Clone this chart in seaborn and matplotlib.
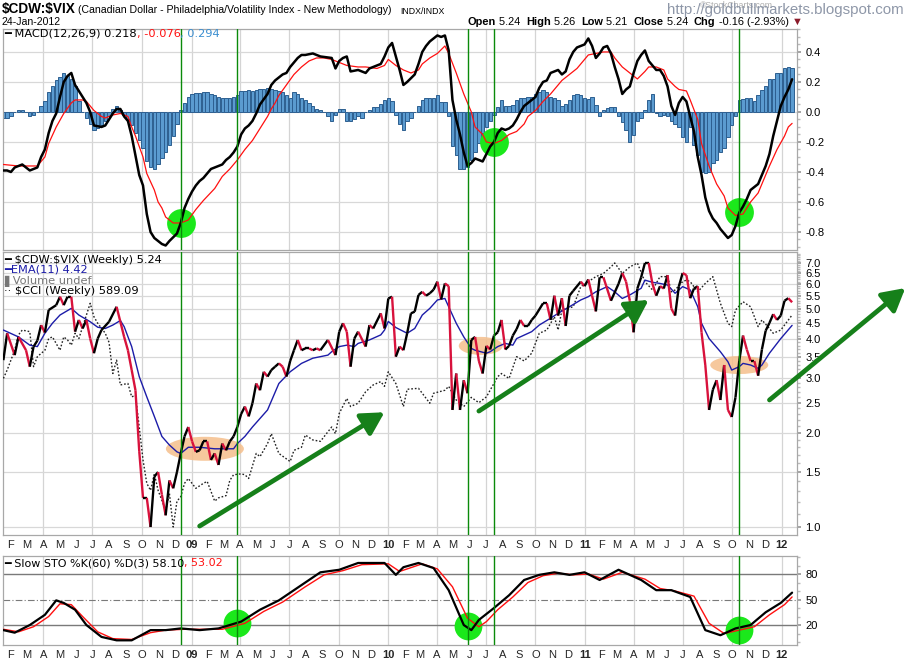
import numpy as np
import pandas as pd
import matplotlib
matplotlib.use("Agg")
import matplotlib.pyplot as plt
import matplotlib.dates as mdates
import matplotlib.transforms as mtransforms
from matplotlib.patches import Ellipse
from matplotlib.collections import LineCollection
from matplotlib.ticker import FixedLocator, FormatStrFormatter, NullFormatter
import seaborn as sns

# weekly bars, week 0 = 18-Jan-2008; (week, value)
price_pts = [(0, 3.42), (1, 4.17), (3, 3.55), (4, 4.06), (6, 3.68), (7, 3.26), (8, 3.78), (9, 3.95), (10, 4.43),
             (11, 4.19), (12, 4.95), (14, 5.13), (15, 5.46), (16, 5.13), (17, 5.46), (18, 5.46), (19, 4.22),
             (20, 4.60), (21, 4.32), (22, 4.60), (23, 4.01), (24, 3.60), (25, 4.01), (26, 4.27), (28, 4.54),
             (30, 5.07), (31, 4.54), (32, 4.06), (33, 3.68), (34, 3.18), (35, 2.74), (36, 1.75), (37, 1.24),
             (38, 1.24), (39, 1.00), (40, 1.45), (41, 1.50), (42, 1.27), (43, 1.09), (44, 1.41), (45, 1.33),
             (46, 1.50), (47, 1.72), (48, 1.95), (49, 2.09), (50, 1.88), (51, 1.74), (52, 1.76), (53, 1.88),
             (54, 1.88), (55, 1.64), (56, 1.72), (57, 1.58), (58, 1.85), (59, 1.76), (60, 1.88), (61, 1.95),
             (62, 2.09), (63, 2.30), (64, 2.43), (65, 2.26), (66, 2.49), (67, 2.88), (68, 2.74), (69, 3.14),
             (70, 3.03), (71, 3.18), (72, 3.26), (73, 3.34), (74, 3.26), (75, 3.03), (76, 3.40), (77, 3.68),
             (78, 3.97), (79, 3.68), (80, 3.73), (81, 3.73), (82, 3.68), (83, 3.73), (84, 3.68), (86, 3.97),
             (88, 3.55), (89, 4.22), (90, 4.49), (91, 4.22), (92, 3.26), (93, 4.01), (94, 4.22), (96, 3.78),
             (97, 4.43), (98, 4.32), (100, 4.83), (101, 4.32), (102, 5.39), (103, 5.46), (104, 3.51), (105, 3.78),
             (106, 3.68), (107, 4.17), (108, 4.83), (109, 4.89), (110, 5.53), (111, 5.66), (112, 5.50), (113, 5.60),
             (114, 5.75), (115, 6.10), (116, 5.35), (117, 6.02), (118, 5.90), (119, 2.37), (120, 3.10), (121, 2.37),
             (122, 2.95), (123, 2.68), (124, 3.97), (125, 4.06), (126, 3.40), (127, 3.10), (128, 3.80), (129, 3.70),
             (130, 4.10), (131, 4.20), (132, 4.60), (133, 3.70), (134, 3.80), (135, 4.10), (136, 4.30), (137, 4.60),
             (138, 4.40), (139, 4.40), (140, 4.60), (141, 4.75), (143, 5.20), (144, 5.20), (145, 4.60), (146, 5.50),
             (147, 4.75), (148, 5.40), (149, 4.40), (150, 5.50), (151, 5.70), (153, 6.10), (154, 5.90), (155, 6.20),
             (156, 5.50), (157, 4.90), (158, 6.30), (159, 6.30), (161, 5.30), (163, 6.00), (164, 6.50), (165, 6.10),
             (166, 5.30), (167, 4.20), (168, 5.80), (169, 6.30), (170, 7.00), (171, 7.00), (172, 6.00), (173, 5.50),
             (174, 5.90), (175, 5.80), (176, 6.40), (177, 5.00), (178, 4.75), (179, 5.90), (180, 6.50), (181, 6.40),
             (182, 5.40), (183, 5.80), (184, 5.90), (185, 4.20), (186, 3.30), (187, 2.37), (188, 2.75), (189, 2.95),
             (190, 2.55), (191, 3.30), (192, 2.37), (193, 2.25), (194, 2.60), (195, 3.40), (196, 4.10), (197, 3.70),
             (198, 3.40), (199, 3.40), (200, 3.05), (201, 3.70), (202, 4.25), (203, 4.50), (204, 4.80), (205, 4.60),
             (206, 4.75), (207, 5.30), (208, 5.40), (209, 5.24)]

ema_pts = [(0, 4.27), (4, 4.06), (7, 3.82), (9, 3.78), (11, 4.17), (13, 4.49), (15, 4.77), (18, 5.01), (20, 4.77),
           (23, 4.54), (25, 4.36), (27, 4.32), (29, 4.43), (31, 4.58), (32, 4.38), (34, 3.78), (36, 3.03), (38, 2.61),
           (40, 2.26), (42, 1.95), (44, 1.83), (46, 1.74), (47, 1.72), (49, 1.80), (52, 1.80), (56, 1.78), (61, 1.78),
           (62, 1.85), (64, 1.95), (66, 2.09), (70, 2.37), (73, 2.88), (76, 3.14), (79, 3.34), (82, 3.47), (86, 3.55),
           (87, 3.64), (89, 3.78), (91, 3.82), (93, 3.78), (94, 3.87), (97, 3.97), (100, 4.12), (101, 4.27),
           (102, 4.55), (104, 4.35), (107, 4.17), (109, 4.32), (111, 4.77), (113, 5.01), (115, 5.33), (117, 5.39),
           (118, 5.07), (120, 4.49), (122, 4.06), (124, 3.73), (125, 3.68), (128, 3.60), (129, 3.64), (131, 3.78),
           (133, 3.87), (135, 3.82), (136, 4.01), (140, 4.22), (142, 4.43), (145, 4.66), (147, 4.83), (150, 5.07),
           (153, 5.33), (155, 5.46), (157, 5.66), (160, 5.88), (162, 5.66), (164, 5.39), (166, 5.53), (169, 5.81),
           (170, 6.17), (172, 6.07), (174, 6.02), (176, 5.95), (178, 5.60), (180, 5.88), (182, 5.74), (184, 5.07),
           (185, 4.49), (187, 4.01), (190, 3.64), (192, 3.38), (193, 3.18), (195, 3.26), (196, 3.34), (198, 3.30),
           (200, 3.22), (201, 3.30), (203, 3.60), (206, 4.01), (209, 4.42)]

cci_pts = [(0, 2.99), (1, 3.18), (3, 3.68), (4, 4.12), (5, 4.27), (7, 4.22), (8, 3.26), (9, 3.51), (11, 3.68),
           (12, 4.01), (13, 4.06), (15, 3.68), (16, 4.06), (17, 3.97), (18, 3.82), (19, 4.17), (20, 4.01), (23, 5.20),
           (24, 4.71), (25, 4.49), (27, 4.17), (28, 3.90), (29, 3.10), (30, 3.42), (31, 2.85), (33, 2.88), (34, 2.61),
           (35, 2.64), (36, 2.09), (37, 1.64), (38, 1.38), (39, 1.31), (40, 1.48), (41, 1.31), (43, 1.13), (44, 1.28),
           (45, 1.00), (46, 1.21), (47, 1.25), (48, 1.38), (49, 1.43), (50, 1.38), (51, 1.33), (53, 1.38), (54, 1.40),
           (56, 1.21), (57, 1.24), (59, 1.26), (60, 1.41), (61, 1.47), (63, 1.48), (64, 1.47), (65, 1.43), (67, 1.72),
           (68, 1.68), (70, 1.85), (71, 1.99), (73, 1.72), (76, 1.62), (77, 1.76), (79, 1.80), (80, 1.97), (82, 1.90),
           (84, 1.88), (87, 2.09), (88, 1.99), (89, 2.31), (91, 2.58), (92, 2.43), (94, 2.49), (96, 2.71), (98, 2.85),
           (100, 2.92), (101, 2.82), (102, 3.14), (104, 2.88), (106, 2.43), (107, 2.76), (110, 2.78), (111, 2.68),
           (113, 2.49), (114, 2.68), (117, 2.74), (118, 2.82), (120, 2.55), (122, 2.43), (124, 2.60), (126, 2.50),
           (128, 2.61), (131, 3.03), (132, 3.10), (134, 2.99), (136, 3.51), (138, 3.40), (140, 3.60), (142, 4.17),
           (144, 4.27), (146, 4.71), (147, 4.27), (148, 4.95), (151, 5.07), (153, 5.88), (155, 6.10), (157, 6.33),
           (159, 6.48), (161, 6.80), (162, 7.00), (164, 6.48), (166, 6.80), (168, 7.00), (170, 6.10), (172, 5.74),
           (174, 6.33), (176, 6.33), (177, 5.66), (178, 5.74), (180, 6.10), (181, 6.17), (182, 6.10), (184, 5.66),
           (186, 6.02), (188, 6.33), (189, 5.74), (190, 5.20), (192, 4.49), (193, 4.38), (194, 4.95), (196, 5.26),
           (198, 5.07), (199, 4.71), (200, 4.38), (201, 4.60), (203, 4.32), (204, 4.17), (206, 4.27), (208, 4.60),
           (209, 4.77)]

macd_pts = [(0, -0.39), (1, -0.39), (2, -0.40), (3, -0.37), (5, -0.35), (7, -0.39), (9, -0.37), (10, -0.30),
            (11, -0.25), (12, -0.14), (13, -0.06), (14, -0.01), (15, 0.10), (16, 0.20), (17, 0.24), (18, 0.26),
            (19, 0.18), (20, 0.14), (21, 0.10), (22, 0.06), (23, 0.0), (24, -0.09), (26, -0.10), (27, -0.09),
            (29, -0.01), (30, 0.02), (31, 0.02), (32, -0.03), (33, -0.06), (34, -0.16), (35, -0.29), (36, -0.42),
            (37, -0.49), (38, -0.68), (39, -0.80), (40, -0.84), (41, -0.86), (42, -0.88), (43, -0.89), (44, -0.86),
            (46, -0.81), (47, -0.74), (48, -0.64), (49, -0.58), (50, -0.53), (51, -0.49), (52, -0.46), (53, -0.44),
            (54, -0.41), (55, -0.38), (56, -0.37), (57, -0.36), (58, -0.35), (59, -0.32), (60, -0.30), (61, -0.27),
            (62, -0.23), (63, -0.15), (64, -0.11), (65, -0.09), (66, -0.06), (67, -0.01), (68, 0.05), (70, 0.12),
            (71, 0.18), (72, 0.21), (74, 0.25), (75, 0.26), (76, 0.30), (78, 0.36), (79, 0.38), (80, 0.38),
            (82, 0.39), (83, 0.38), (84, 0.37), (87, 0.36), (88, 0.29), (89, 0.34), (90, 0.36), (91, 0.37),
            (92, 0.27), (94, 0.28), (96, 0.26), (97, 0.29), (98, 0.30), (100, 0.32), (101, 0.37), (102, 0.43),
            (103, 0.46), (104, 0.37), (105, 0.28), (106, 0.18), (107, 0.20), (109, 0.25), (110, 0.32), (111, 0.40),
            (112, 0.44), (113, 0.47), (114, 0.49), (115, 0.51), (116, 0.50), (117, 0.51), (118, 0.41), (119, 0.08),
            (120, -0.05), (121, -0.15), (122, -0.27), (123, -0.36), (124, -0.34), (125, -0.31), (126, -0.32),
            (127, -0.33), (128, -0.28), (129, -0.23), (130, -0.20), (131, -0.14), (132, -0.11), (133, -0.12),
            (134, -0.11), (135, -0.09), (136, -0.05), (137, 0.0), (138, 0.04), (139, 0.06), (140, 0.08), (141, 0.10),
            (142, 0.16), (143, 0.20), (144, 0.21), (145, 0.26), (146, 0.27), (147, 0.28), (148, 0.25), (149, 0.27),
            (150, 0.35), (151, 0.40), (152, 0.43), (153, 0.44), (154, 0.45), (155, 0.49), (156, 0.44), (157, 0.36),
            (158, 0.39), (159, 0.43), (160, 0.44), (161, 0.39), (162, 0.30), (163, 0.22), (164, 0.12), (165, 0.15),
            (166, 0.17), (167, 0.26), (168, 0.34), (169, 0.38), (170, 0.41), (171, 0.34), (172, 0.31), (173, 0.28),
            (174, 0.28), (175, 0.24), (176, 0.17), (177, 0.04), (178, -0.02), (179, 0.06), (180, 0.10), (181, 0.07),
            (182, -0.03), (183, -0.13), (184, -0.30), (185, -0.42), (186, -0.57), (187, -0.66), (188, -0.71),
            (189, -0.74), (190, -0.78), (191, -0.81), (192, -0.84), (193, -0.82), (194, -0.76), (195, -0.67),
            (196, -0.63), (197, -0.58), (198, -0.52), (199, -0.50), (200, -0.48), (201, -0.42), (202, -0.36),
            (203, -0.28), (204, -0.16), (205, -0.06), (206, 0.04), (207, 0.10), (208, 0.15), (209, 0.218)]

signal_pts = [(0, -0.35), (4, -0.36), (9, -0.36), (11, -0.30), (12, -0.21), (14, -0.10), (16, -0.01), (18, 0.06),
              (19, 0.08), (21, 0.08), (22, 0.07), (24, 0.01), (26, -0.03), (27, -0.04), (29, -0.02), (31, -0.01),
              (33, -0.03), (34, -0.10), (35, -0.16), (37, -0.30), (38, -0.41), (40, -0.52), (41, -0.60), (42, -0.64),
              (43, -0.70), (45, -0.74), (47, -0.74), (49, -0.72), (51, -0.65), (53, -0.59), (56, -0.51), (58, -0.43),
              (60, -0.38), (62, -0.32), (64, -0.25), (66, -0.19), (68, -0.11), (70, -0.03), (71, 0.02), (72, 0.06),
              (73, 0.11), (75, 0.18), (77, 0.25), (79, 0.30), (81, 0.34), (83, 0.36), (85, 0.36), (87, 0.35),
              (89, 0.33), (91, 0.31), (94, 0.30), (96, 0.30), (99, 0.29), (101, 0.31), (102, 0.35), (104, 0.31),
              (106, 0.28), (108, 0.26), (110, 0.28), (111, 0.32), (113, 0.36), (115, 0.39), (117, 0.44), (118, 0.39),
              (120, 0.26), (122, 0.12), (124, 0.0), (125, -0.10), (127, -0.15), (128, -0.20), (130, -0.21),
              (132, -0.19), (134, -0.15), (136, -0.13), (138, -0.08), (139, -0.03), (141, 0.01), (143, 0.07),
              (145, 0.12), (147, 0.18), (148, 0.21), (150, 0.25), (152, 0.29), (154, 0.35), (155, 0.38), (157, 0.39),
              (159, 0.40), (161, 0.40), (162, 0.36), (164, 0.30), (166, 0.26), (168, 0.22), (170, 0.27), (171, 0.30),
              (173, 0.30), (175, 0.28), (176, 0.22), (178, 0.17), (179, 0.15), (181, 0.14), (182, 0.08), (184, -0.05),
              (185, -0.21), (187, -0.36), (189, -0.48), (191, -0.56), (192, -0.64), (194, -0.69), (196, -0.68),
              (198, -0.60), (200, -0.54), (201, -0.48), (203, -0.36), (205, -0.25), (207, -0.16), (208, -0.10),
              (209, -0.076)]

hist_vals = [-0.04, -0.04, -0.03, 0.0, 0.01, 0.01, 0.0, -0.03, -0.02, 0.0,
             0.04, 0.07, 0.13, 0.17, 0.21, 0.23, 0.26, 0.24, 0.22, 0.17,
             0.07, 0.0, -0.04, -0.08, -0.12, -0.11, -0.09, -0.06, -0.03, 0.02,
             0.04, 0.01, -0.02, -0.05, -0.09, -0.14, -0.19, -0.24, -0.33, -0.37,
             -0.38, -0.35, -0.31, -0.27, -0.22, -0.16, -0.08, 0.01, 0.06, 0.10,
             0.12, 0.125, 0.125, 0.13, 0.13, 0.12, 0.11, 0.10, 0.09, 0.09,
             0.095, 0.10, 0.11, 0.14, 0.14, 0.145, 0.14, 0.145, 0.15, 0.155,
             0.16, 0.15, 0.145, 0.14, 0.13, 0.11, 0.09, 0.13, 0.12, 0.09,
             0.08, 0.06, 0.04, 0.02, 0.01, 0.0, -0.03, -0.06, -0.02, 0.02,
             0.02, -0.06, -0.06, -0.05, -0.03, -0.04, 0.0, 0.01, 0.03, 0.03,
             0.05, 0.08, 0.09, 0.07, -0.02, -0.08, -0.12, -0.06, -0.04, 0.0,
             0.04, 0.08, 0.095, 0.095, 0.095, 0.11, 0.067, 0.067, -0.03, -0.23,
             -0.29, -0.38, -0.38, -0.37, -0.32, -0.27, -0.21, -0.14, -0.10, -0.06,
             -0.02, 0.03, 0.08, 0.04, 0.04, 0.045, 0.08, 0.09, 0.095, 0.10,
             0.10, 0.12, 0.13, 0.145, 0.13, 0.10, 0.095, 0.08, 0.04, 0.055,
             0.08, 0.11, 0.12, 0.11, 0.09, 0.085, 0.10, 0.045, -0.03, 0.01,
             0.025, 0.03, 0.03, -0.03, -0.07, -0.12, -0.20, -0.155, -0.06, -0.04,
             0.01, 0.08, 0.12, -0.01, -0.03, -0.02, -0.03, -0.06, -0.08, -0.10,
             -0.17, -0.20, -0.10, -0.22, -0.29, -0.40, -0.41, -0.40, -0.34, -0.32,
             -0.27, -0.24, -0.17, -0.09, -0.03, 0.08, 0.085, 0.09, 0.095, 0.07,
             0.11, 0.145, 0.17, 0.22, 0.22, 0.26, 0.26, 0.29, 0.30, 0.294]

stok_pts = [(0, 14), (3, 11), (7, 20), (11, 32), (14, 49), (16, 46), (19, 38), (22, 20), (26, 6), (30, 2), (34, 2),
            (39, 14), (43, 14), (47, 16), (52, 14), (57, 16), (63, 24), (68, 38), (73, 49), (79, 67), (84, 82),
            (89, 85), (94, 93), (101, 93), (104, 79), (106, 88), (110, 93), (114, 87), (118, 61), (122, 20),
            (124, 14), (126, 26), (130, 40), (134, 55), (138, 73), (142, 79), (146, 82), (150, 79), (154, 82),
            (158, 73), (163, 85), (169, 73), (173, 61), (177, 61), (182, 53), (186, 14), (190, 8), (194, 16),
            (198, 20), (202, 35), (206, 46), (209, 58.1)]
stod_pts = [(0, 15), (4, 12), (8, 18), (12, 30), (15, 45), (18, 44), (21, 30), (25, 12), (29, 4), (34, 3), (39, 11),
            (43, 14), (48, 15), (53, 15), (58, 15), (64, 22), (69, 36), (74, 47), (80, 65), (85, 79), (90, 84),
            (95, 91), (102, 92), (105, 83), (107, 86), (111, 92), (115, 86), (119, 65), (123, 28), (126, 18),
            (128, 24), (131, 38), (135, 53), (139, 70), (143, 78), (147, 81), (151, 79), (155, 80), (159, 74),
            (164, 82), (170, 74), (174, 63), (178, 60), (183, 54), (187, 22), (191, 10), (195, 14), (199, 18),
            (203, 32), (207, 44), (209, 53.02)]

signal_weeks = [47, 62, 123, 130, 195]          # vertical green lines
macd_marks = [(47, -0.74), (130, -0.20), (195, -0.67)]
sto_marks = [(62, 22), (123, 19), (195, 14)]
base_marks = [(53.4, 1.78, 0.78, 0.24), (126.5, 3.80, 0.44, 0.18), (195, 3.30, 0.58, 0.18)]  # week, value, w, h (in)
trend_arrows = [((52, 1.007), (101, 2.33)), ((126, 2.35), (171, 5.33)), ((203, 2.55), (239, 5.82))]

price_ticks = [1.0, 1.5, 2.0, 2.5, 3.0, 3.5, 4.0, 4.5, 5.0, 5.5, 6.0, 6.5, 7.0]
macd_ticks = [-0.8, -0.6, -0.4, -0.2, 0.0, 0.2, 0.4]
sto_ticks = [20, 50, 80]

sns.set_theme(style="white")
plt.rcParams["font.family"] = ["Liberation Sans", "DejaVu Sans"]
LEG = ["DejaVu Sans"]

start = pd.Timestamp("2008-01-18")


def wk(w):
    return start + pd.to_timedelta(np.atleast_1d(np.asarray(w, dtype=float)) * 7, unit="D")


def num(w):
    return mdates.date2num(wk(w))


def frame(pts):
    w, v = zip(*pts)
    return pd.DataFrame({"date": wk(w), "v": v})


W, H = 911, 664
fig = plt.figure(figsize=(W / 100, H / 100), dpi=100)
fig.patch.set_facecolor("white")


def box(top, bottom):
    return [3 / W, 1 - bottom / H, 794 / W, (bottom - top) / H]


ax1 = fig.add_axes(box(29, 250))
ax2 = fig.add_axes(box(252, 535), sharex=ax1)
ax3 = fig.add_axes(box(556, 645), sharex=ax1)
for ax in (ax1, ax2, ax3):
    ax.xaxis_date()

# MACD panel
ax1.bar(num(range(len(hist_vals))), hist_vals, width=6.2, color="#5b9bd0", edgecolor="#2d5f90",
        linewidth=0.7, zorder=2)
for w, v in macd_marks:
    ax1.scatter(num(w), [v], s=430, color="#1be81b", zorder=3, linewidths=0)
sns.lineplot(data=frame(signal_pts), x="date", y="v", ax=ax1, color="#ff1010", linewidth=0.9, zorder=4)
sns.lineplot(data=frame(macd_pts), x="date", y="v", ax=ax1, color="black", linewidth=1.8, zorder=5)
ax1.set_ylim(-0.92, 0.553)

# price panel
ax2.set_yscale("log")
for w, v, ew, eh in base_marks:
    tr = fig.dpi_scale_trans + mtransforms.ScaledTranslation(num(w)[0], v, ax2.transData)
    ax2.add_patch(Ellipse((0, 0), ew, eh, transform=tr, color="#f5bf8c", alpha=0.85, lw=0, zorder=2))
sns.lineplot(data=frame(cci_pts), x="date", y="v", ax=ax2, color="#222222", linewidth=1.0,
             linestyle=(0, (1.2, 1.4)), zorder=3)
sns.lineplot(data=frame(ema_pts), x="date", y="v", ax=ax2, color="#1c1ca8", linewidth=1.0, zorder=4)
pw, pv = zip(*price_pts)
px, pv = num(pw), np.array(pv)
segs = np.stack([np.column_stack([px[:-1], pv[:-1]]), np.column_stack([px[1:], pv[1:]])], axis=1)
cols = np.where(np.diff(pv) < 0, "#d8123c", "black")
ax2.add_collection(LineCollection(segs, colors=cols, linewidths=1.7, zorder=5))
ax2.set_ylim(0.943, 7.59)
for (w0, v0), (w1, v1) in trend_arrows:
    ax2.annotate("", xy=(num(w1)[0], v1), xytext=(num(w0)[0], v0), annotation_clip=False, zorder=6,
                 arrowprops=dict(arrowstyle="-|>,head_length=0.9,head_width=0.5", lw=3.4, color="#16801a",
                                 mutation_scale=15, shrinkA=0, shrinkB=0))

# slow stochastics panel
for w, v in sto_marks:
    ax3.scatter(num(w), [v], s=400, color="#1be81b", zorder=3, linewidths=0)
for lvl in (20, 80):
    ax3.axhline(lvl, color="#7a7a7a", lw=1.0, zorder=1)
ax3.axhline(50, color="#7a7a7a", lw=0.8, ls=(0, (6, 2, 1, 2)), zorder=1)
sns.lineplot(data=frame(stod_pts), x="date", y="v", ax=ax3, color="#ff1010", linewidth=1.0, zorder=4)
sns.lineplot(data=frame(stok_pts), x="date", y="v", ax=ax3, color="black", linewidth=1.6, zorder=5)
ax3.set_ylim(-3.5, 101.2)

# common axis styling
quarters = pd.date_range("2008-04-01", "2012-01-01", freq="QS")
months = pd.date_range("2008-02-01", "2012-01-01", freq="MS")
ax1.set_xlim(num(-0.1)[0], num(210.3)[0])
for ax in (ax1, ax2, ax3):
    ax.set_xlabel("")
    ax.set_ylabel("")
    for d in quarters:
        ax.axvline(d, color="#d4d4d4", lw=0.9, zorder=0)
    for w in signal_weeks:
        ax.axvline(num(w)[0], color="#0a8a0a", lw=1.0, zorder=6)
    for s in ax.spines.values():
        s.set_color("#a8a8a8")
        s.set_linewidth(0.9)
    ax.yaxis.tick_right()
    ax.tick_params(axis="y", which="major", length=3, color="#999999", labelsize=8, pad=3, labelcolor="black")
    ax.tick_params(axis="y", which="minor", length=2, color="#bbbbbb")
    ax.xaxis.set_major_locator(FixedLocator(num((months - start).days / 7.0)))
    ax.xaxis.set_minor_locator(FixedLocator(num(range(0, 211))))
    ax.tick_params(axis="x", which="major", length=3, color="#999999", labelbottom=False)
    ax.tick_params(axis="x", which="minor", length=1.5, color="#bbbbbb")
    ax.grid(False)

ax1.yaxis.set_major_locator(FixedLocator(macd_ticks))
ax1.yaxis.set_minor_locator(FixedLocator(np.arange(-0.9, 0.56, 0.05)))
ax1.yaxis.set_major_formatter(FormatStrFormatter("%.1f"))
for v in macd_ticks:
    ax1.axhline(v, color="#d8d8d8", lw=0.9, zorder=0)

ax2.yaxis.set_major_locator(FixedLocator(price_ticks))
ax2.yaxis.set_minor_locator(FixedLocator(np.arange(1.0, 7.6, 0.1)))
ax2.yaxis.set_major_formatter(FormatStrFormatter("%.1f"))
ax2.yaxis.set_minor_formatter(NullFormatter())
for v in price_ticks:
    ax2.axhline(v, color="#d8d8d8", lw=0.9, zorder=0)

ax3.yaxis.set_major_locator(FixedLocator(sto_ticks))
ax3.yaxis.set_minor_locator(FixedLocator(np.arange(0, 101, 10)))
ax3.yaxis.set_major_formatter(FormatStrFormatter("%d"))

# month letters under price and stochastics panels
for ax in (ax2, ax3):
    tr = ax.get_xaxis_transform() + mtransforms.ScaledTranslation(0, -0.105, fig.dpi_scale_trans)
    for d in months:
        lab = f"{d.year % 100:02d}" if d.month == 1 else "JFMAMJJASOND"[d.month - 1]
        ax.text(mdates.date2num(d), 0, lab, transform=tr, ha="center", va="center", fontsize=8,
                weight="bold" if d.month == 1 else "normal")

# header and legends
rend = fig.canvas.get_renderer()


def row(x, y, parts, size, family=None):
    for s, c, wgt in parts:
        t = fig.text(x / W, 1 - y / H, s, color=c, weight=wgt, fontsize=size, va="center", ha="left",
                     family=family or plt.rcParams["font.family"])
        x += t.get_window_extent(rend).width


row(2, 9, [(r"\$CDW:\$VIX", "black", "bold")], 9.8)
row(78, 10, [("(Canadian Dollar - Philadelphia/Volatility Index - New Methodology)", "black", "normal")], 7.6)
row(400, 11, [("INDX/INDX", "black", "normal")], 6.3)
row(2, 22, [("24-Jan-2012", "black", "normal")], 7.6)
fig.text(700 / W, 1 - 6 / H, "\u00a9StockCharts.com", fontsize=6.3, color="#777777", va="center", alpha=0.6)
fig.text(667 / W, 1 - 10 / H, "http://goldbullmarkets.blogspot.com", fontsize=10.8, color="#8e97a8",
         va="center", ha="left")
row(468, 22, [("Open", "black", "bold"), (" 5.24  ", "black", "normal"), ("High", "black", "bold"),
              (" 5.26  ", "black", "normal"), ("Low", "black", "bold"), (" 5.21  ", "black", "normal"),
              ("Close", "black", "bold"), (" 5.24  ", "black", "normal"), ("Chg", "black", "bold"),
              (" -0.16 (-2.93%) ", "black", "normal"), ("\u25BC", "#8b1a2a", "normal")], 7.9)

row(4, 34, [("\u2501 MACD(12,26,9) 0.218", "black", "normal"), (", -0.076", "#ff1010", "normal"),
            (", 0.294", "#3a8ed0", "normal")], 8.2, LEG)
row(4, 260, [("\u2501 \\$CDW:\\$VIX (Weekly) 5.24", "black", "normal")], 8.2, LEG)
row(4, 270, [("\u2501EMA(11) 4.42", "#1c1ca8", "normal")], 8.2, LEG)
row(4, 281, [("\u258cVolume undef", "#777777", "normal")], 8.2, LEG)
row(4, 291, [("\u00b7\u00b7 \\$CCI (Weekly) 589.09", "black", "normal")], 8.2, LEG)
row(4, 563, [("\u2501 Slow STO %K(60) %D(3) 58.10", "black", "normal"), (", 53.02", "#ff1010", "normal")],
    8.0, LEG)

fig.savefig("out.png", dpi=100, facecolor="white")
